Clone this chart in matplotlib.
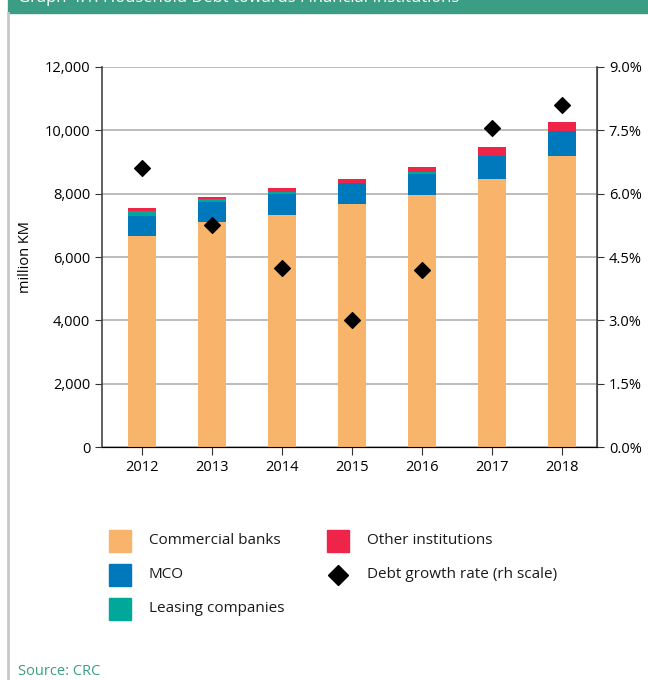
import matplotlib.pyplot as plt
import numpy as np
from matplotlib.patches import Rectangle
from matplotlib.lines import Line2D

plt.rcParams["font.family"] = ["Open Sans", "DejaVu Sans"]

# Household debt by lender type (million KM) and yearly growth (%)
years = ["2012", "2013", "2014", "2015", "2016", "2017", "2018"]
commercial_banks = [6670, 7100, 7330, 7680, 7960, 8460, 9190]
mco = [630, 640, 650, 650, 660, 730, 790]
leasing = [150, 80, 60, 10, 60, 10, 10]
other = [90, 75, 140, 130, 150, 260, 260]
growth_rate = [6.6, 5.25, 4.25, 3.0, 4.2, 7.55, 8.1]

series = [
    ("Commercial banks", commercial_banks, "#F9B46C"),
    ("MCO", mco, "#0079BC"),
    ("Leasing companies", leasing, "#00A89A"),
    ("Other institutions", other, "#EE2449"),
]

fig = plt.figure(figsize=(6.48, 6.8), dpi=100)
ax = fig.add_axes([0.1574, 0.3426, 0.7639, 0.5589])

x = np.arange(len(years))
bottom = np.zeros(len(years))
for name, vals, col in series:
    ax.bar(x, vals, width=0.41, bottom=bottom, color=col, zorder=3)
    bottom += np.array(vals)

ax.set_xlim(-0.57, len(years) - 0.5)
ax.set_ylim(0, 12000)
ax.set_yticks(range(0, 12001, 2000))
ax.set_yticklabels([f"{v:,}" for v in range(0, 12001, 2000)])
ax.set_xticks(x)
ax.set_xticklabels(years)
ax.set_ylabel("million KM", fontsize=10.5, labelpad=8)
ax.grid(axis="y", color="#B0B0B0", linewidth=1.2, zorder=0)
ax.tick_params(axis="both", labelsize=10.5, length=5, color="#333333")
ax.tick_params(axis="x", length=6)
ax.spines["top"].set_visible(False)
ax.spines["left"].set_color("#444444")
ax.spines["right"].set_color("#444444")
ax.spines["bottom"].set_color("#222222")
ax.spines["left"].set_linewidth(1.2)

ax2 = ax.twinx()
ax2.scatter(x, growth_rate, marker="D", s=64, color="black", zorder=5)
ax2.set_ylim(0, 9)
ax2.set_yticks(np.arange(0, 9.1, 1.5))
ax2.set_yticklabels([f"{v:.1f}%" for v in np.arange(0, 9.1, 1.5)])
ax2.tick_params(axis="y", labelsize=10.5, length=5, color="#333333")
ax2.spines["top"].set_visible(False)
ax2.spines["right"].set_color("#444444")
ax2.spines["right"].set_linewidth(1.2)
ax2.spines["left"].set_visible(False)

# Title banner (its text runs off the top edge) and left frame line
fig.patches.append(Rectangle((8 / 648, 1 - 13 / 680), 1, 13 / 680,
                             transform=fig.transFigure, color="#3A9D84", zorder=0))
fig.text(18 / 648, 1 - 2 / 680, "Graph 4.1: Household Debt towards Financial Institutions",
         color="white", fontsize=12, va="baseline", ha="left")
fig.add_artist(Line2D([7.5 / 648, 7.5 / 648], [0, 1 - 13 / 680],
                      transform=fig.transFigure, color="#C8C8C8", linewidth=2))

# Legend drawn by hand in two columns
def legend_box(px, py, color):
    fig.patches.append(Rectangle((px / 648, 1 - (py + 11) / 680), 22 / 648, 22 / 680,
                                 transform=fig.transFigure, color=color))

rows_y = [541, 575, 609]
for (name, _, col), (px, py) in zip(series, [(109, rows_y[0]), (109, rows_y[1]),
                                             (109, rows_y[2]), (327, rows_y[0])]):
    legend_box(px, py, col)
    fig.text((px + 40) / 648, 1 - py / 680, name, fontsize=11, va="center", color="#1a1a1a")

fig.add_artist(Line2D([338 / 648], [1 - rows_y[1] / 680], marker="D", markersize=10,
                      color="black", linestyle="none", transform=fig.transFigure))
fig.text(367 / 648, 1 - rows_y[1] / 680, "Debt growth rate (rh scale)", fontsize=11,
         va="center", color="#1a1a1a")

fig.text(18 / 648, 1 - 675 / 680, "Source: CRC", fontsize=10.5, color="#3A9D84",
         va="baseline")

fig.savefig("out.png", dpi=100)
